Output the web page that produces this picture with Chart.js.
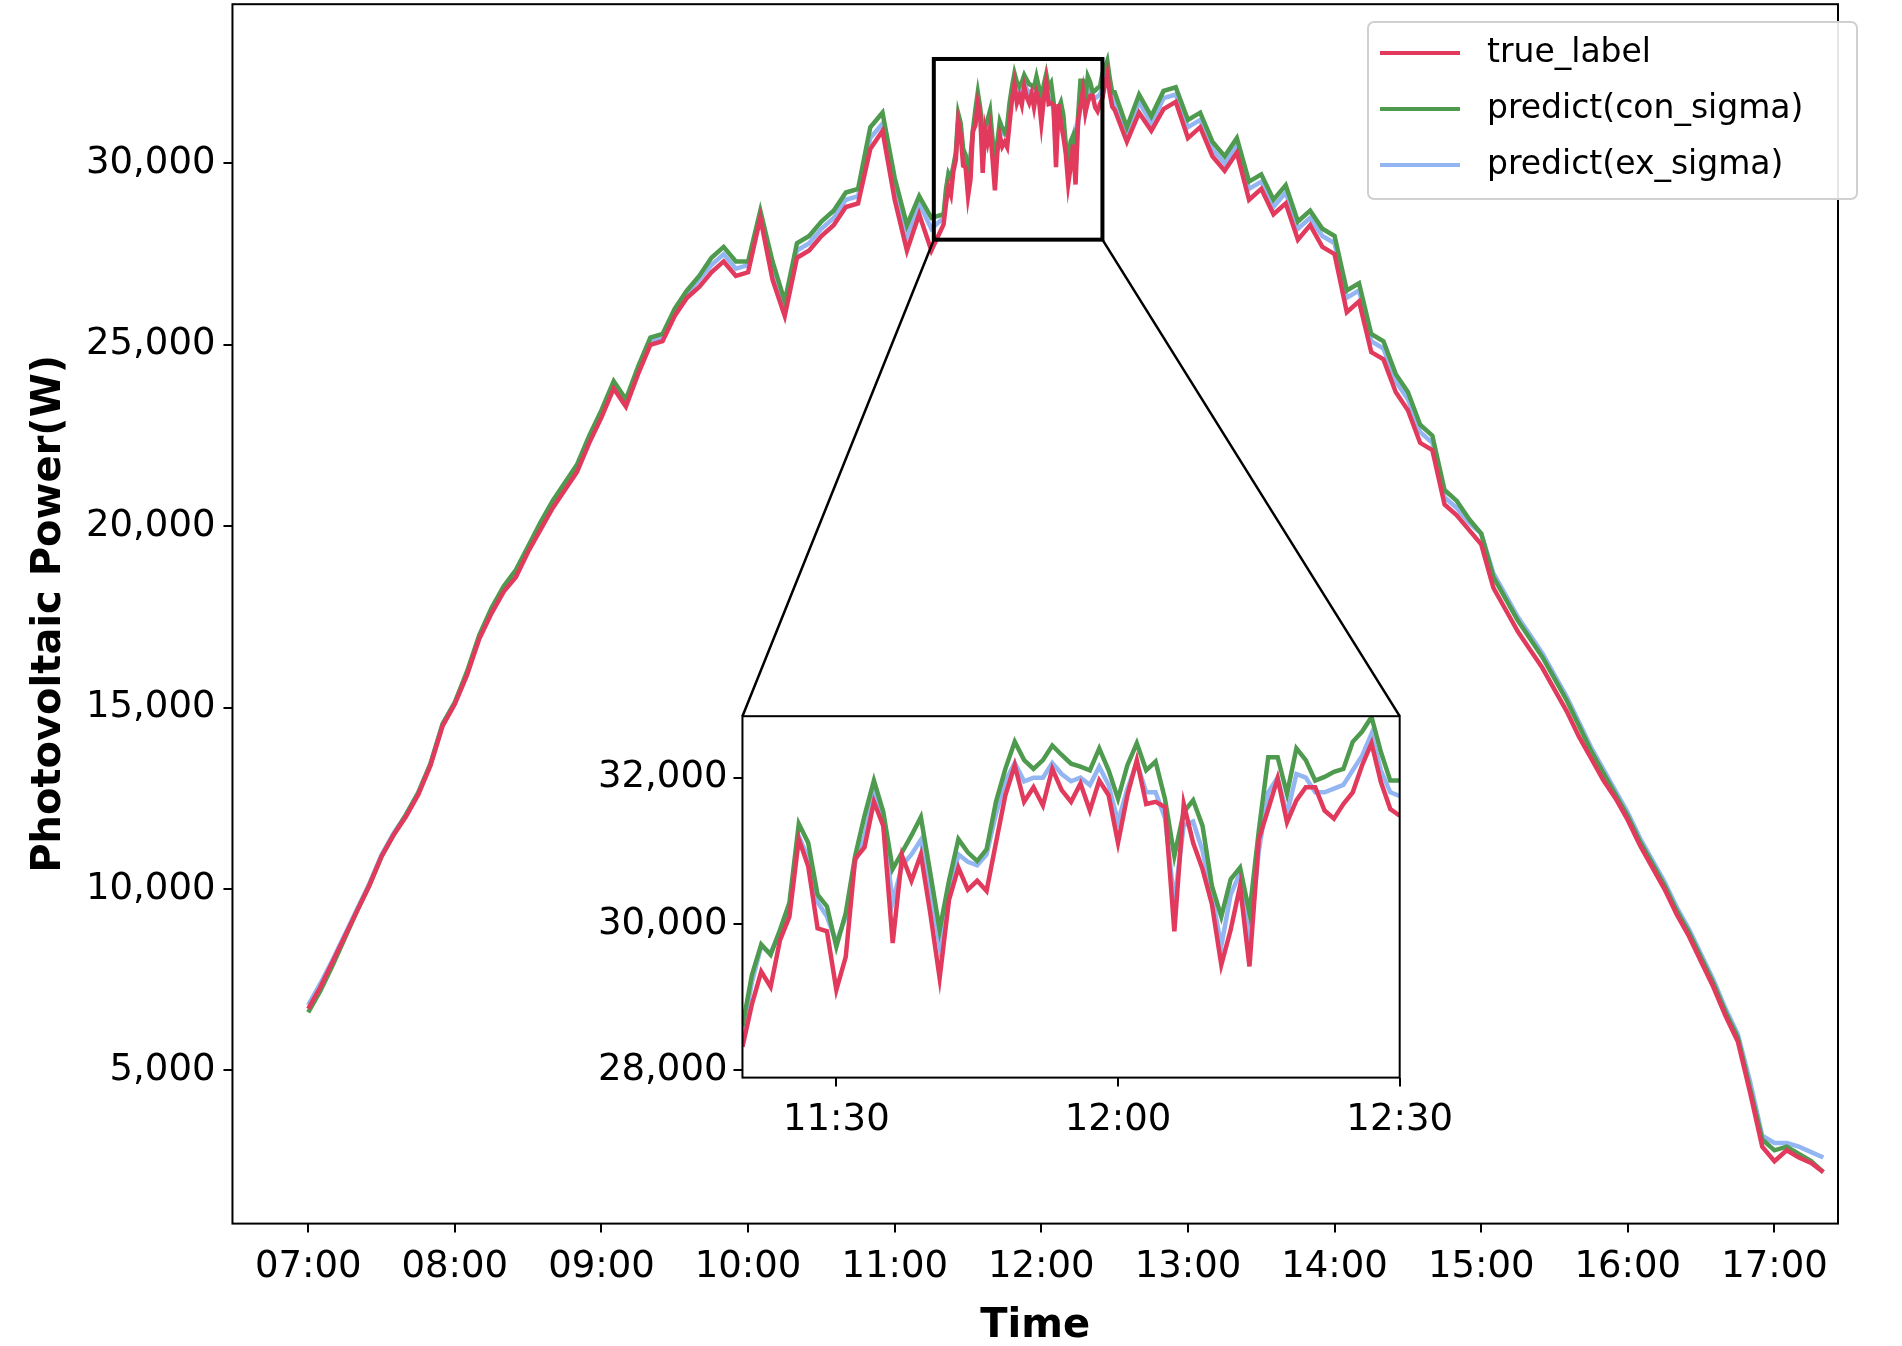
<!DOCTYPE html>
<html>
<head>
<meta charset="utf-8">
<script src="https://cdn.jsdelivr.net/npm/chart.js@4.4.0/dist/chart.umd.min.js"></script>
<style>
  body { margin: 0; background: #fff; overflow: hidden; }
  #wrap { position: relative; width: 1902px; height: 1346px; overflow: hidden; }
  #main { position: absolute; left: 0; top: -26px; }
  #inset { position: absolute; left: 592px; top: 688px; }
</style>
</head>
<body>
<div id="wrap">
  <canvas id="main" width="1902" height="1379"></canvas>
  <canvas id="inset" width="873" height="467"></canvas>
</div>
<script>
const seriesNames = ['true_label', 'predict(con_sigma)', 'predict(ex_sigma)'];
const seriesColors = ['#e23a5c', '#4e9a4e', '#93b6f2'];

// minutes after midnight
const morningStart = 420, insetStart = 680, afternoonStart = 755;

// 07:00 - 11:15, every 5 min
const trueMorning = [6700,7300,8000,8700,9400,10100,10900,11500,12000,12600,13400,14500,
  15100,15900,16900,17600,18200,18600,19300,19900,20500,21000,21500,22300,
  23000,23800,23300,24200,25000,25100,25800,26300,26600,27000,27300,26900,
  27000,28500,26800,25800,27400,27600,28000,28300,28800,28900,30400,30900,
  29000,27600,28600,27600];
const conMorning = [6600,7200,7900,8650,9400,10100,10900,11500,12050,12650,13450,14550,
  15150,16000,17000,17750,18350,18800,19450,20100,20700,21200,21700,22500,
  23200,24000,23500,24400,25200,25300,26000,26500,26900,27400,27700,27300,
  27300,28700,27300,26200,27800,28000,28400,28700,29200,29300,31000,31400,
  29600,28300,29100,28500];
const exMorning = [6800,7400,8050,8750,9450,10150,10950,11550,12050,12650,13450,14550,
  15150,15950,16950,17700,18300,18700,19400,20000,20600,21100,21600,22400,
  23100,23900,23400,24300,25100,25200,25900,26400,26800,27200,27500,27100,
  27200,28600,27100,26000,27600,27800,28200,28500,29000,29100,30700,31100,
  29300,28000,28900,28200];

// 11:20 - 12:30, every minute (zoomed window)
const trueInset = [28320,28900,29350,29140,29780,30100,31160,30790,29940,29900,29100,29550,30890,31050,31670,31340,29740,30930,30590,30950,
  30150,29260,30330,30770,30470,30590,30450,31110,31760,32170,31670,31870,31620,32120,31830,31670,31920,31550,31960,31760,
  31110,31760,32240,31640,31670,31600,29900,31640,31110,30750,30270,29440,29920,30520,29420,31160,31570,31990,31390,31690,
  31870,31870,31550,31440,31640,31800,32170,32470,31940,31570,31480];
const conInset = [28600,29300,29720,29580,29920,30290,31370,31110,30400,30240,29690,30150,30930,31480,31960,31530,30750,30980,31210,31460,
  30700,29920,30590,31160,30980,30860,31020,31670,32120,32490,32240,32120,32240,32440,32310,32190,32150,32100,32400,32100,
  31710,32170,32470,32100,32220,31710,30930,31530,31690,31340,30520,30100,30610,30770,30150,31280,32280,32280,31780,32400,
  32240,31960,32010,32080,32120,32490,32630,32830,32350,31960,31960];
const exInset = [28500,29200,29700,29600,29900,30250,31200,30900,30300,30100,29750,30100,30850,31200,31800,31350,30300,30800,30950,31150,
  30500,29700,30400,30950,30850,30800,30950,31500,31950,32200,31950,32000,32000,32200,32050,31950,32000,31900,32150,31900,
  31400,31850,32200,31800,31800,31450,30300,31350,31400,31000,30400,29700,30400,30700,29750,31000,31800,32000,31500,32050,
  32000,31800,31800,31850,31900,32100,32300,32600,32100,31800,31750];

// 12:35 - 17:20, every 5 min
const trueAfternoon = [30600,31400,30900,31500,31700,30700,31000,30200,29800,30300,29000,29300,28600,28900,27900,
  28300,27700,27500,25900,26200,24800,24600,23700,23200,22300,22100,20600,20300,19900,19500,
  18300,17700,17100,16600,16100,15500,14900,14200,13600,13000,12500,11900,11200,10600,10000,
  9300,8700,8000,7300,6500,5800,4400,2900,2500,2800,2600,2450,2200];
const conAfternoon = [31000,31900,31300,32000,32100,31200,31400,30600,30200,30700,29500,29700,29000,29400,28400,
  28700,28200,28000,26500,26700,25300,25100,24200,23700,22800,22500,21000,20700,20200,19800,
  18600,18000,17400,16900,16400,15800,15200,14500,13800,13200,12600,12000,11300,10700,10100,
  9400,8800,8100,7400,6600,5900,4500,3100,2800,2900,2700,2500,2200];
const exAfternoon = [30800,31700,31100,31800,31900,31000,31200,30400,30000,30500,29300,29500,28800,29200,28200,
  28500,28000,27800,26300,26500,25100,24900,24000,23500,22600,22300,20800,20500,20100,19800,
  18700,18100,17500,17000,16500,15900,15300,14600,13900,13300,12700,12100,11400,10800,10200,
  9500,8900,8200,7500,6700,6000,4700,3200,3000,3000,2900,2750,2600];

const mainYTicks = [5000, 10000, 15000, 20000, 25000, 30000];
const insetYTicks = [28000, 30000, 32000];
const zoomBox = { x0: 676, x1: 745, y0: 27900, y1: 32880 };

const toPoints = (start, step, vals) => vals.map((v, i) => ({ x: start + i * step, y: v }));
const joinSeries = (m, ins, a) => [...toPoints(morningStart, 5, m), ...toPoints(insetStart, 1, ins), ...toPoints(afternoonStart, 5, a)];

const mainSeries = [
  joinSeries(trueMorning, trueInset, trueAfternoon),
  joinSeries(conMorning, conInset, conAfternoon),
  joinSeries(exMorning, exInset, exAfternoon)
];
const insetSeries = [trueInset, conInset, exInset].map(s => toPoints(insetStart, 1, s));

const hhmm = v => String(Math.floor(v / 60)).padStart(2, '0') + ':' + String(v % 60).padStart(2, '0');
const FONT = 'DejaVu Sans';

const boxPlugin = {
  id: 'box',
  afterDraw(chart) {
    const { ctx, chartArea: a } = chart;
    ctx.save();
    ctx.strokeStyle = '#000'; ctx.lineWidth = 2;
    ctx.strokeRect(a.left, a.top, a.right - a.left, a.bottom - a.top);
    ctx.restore();
  }
};

const makeDatasets = series => series.map((d, i) => ({
  label: seriesNames[i], data: d, borderColor: seriesColors[i], borderWidth: 4.5,
  pointRadius: 0, tension: 0, fill: false
}));

const axisCommon = (min, max, ticks, fmt, pad) => ({
  type: 'linear', min, max,
  afterBuildTicks: ax => { ax.ticks = ticks.map(v => ({ value: v })); },
  ticks: { color: '#000', font: { family: FONT, size: 37 }, callback: fmt, padding: pad },
  grid: { drawOnChartArea: false, color: '#000', tickLength: 9, lineWidth: 2 },
  border: { display: false }
});

const overlayPlugin = {
  id: 'overlay',
  afterDraw(chart) {
    const { ctx } = chart;
    const x = chart.scales.x, y = chart.scales.y;
    const bx0 = x.getPixelForValue(zoomBox.x0), bx1 = x.getPixelForValue(zoomBox.x1);
    const by0 = y.getPixelForValue(zoomBox.y1), by1 = y.getPixelForValue(zoomBox.y0);
    ctx.save();
    ctx.strokeStyle = '#000'; ctx.lineWidth = 4;
    ctx.strokeRect(bx0, by0, bx1 - bx0, by1 - by0);
    const ins = window.insetChart;
    if (ins) {
      const el = document.getElementById('inset');
      const mainTop = chart.canvas.offsetTop;
      const ox = el.offsetLeft, oy = el.offsetTop - mainTop, a = ins.chartArea;
      ctx.lineWidth = 2.5;
      ctx.beginPath();
      ctx.moveTo(bx0, by1); ctx.lineTo(ox + a.left, oy + a.top);
      ctx.moveTo(bx1, by1); ctx.lineTo(ox + a.right, oy + a.top);
      ctx.stroke();
    }
    // legend (canvas is shifted up 26px)
    const lx = 1368, ly = 48, lw = 489, lh = 177;
    ctx.fillStyle = 'rgba(255,255,255,0.9)';
    ctx.strokeStyle = '#d0d0d0'; ctx.lineWidth = 2;
    ctx.beginPath(); ctx.roundRect(lx, ly, lw, lh, 6); ctx.fill(); ctx.stroke();
    ctx.font = `33px ${FONT}`; ctx.textBaseline = 'middle';
    seriesNames.forEach((n, i) => {
      const yy = 79 + i * 56;
      ctx.strokeStyle = seriesColors[i]; ctx.lineWidth = 4;
      ctx.beginPath(); ctx.moveTo(1380, yy); ctx.lineTo(1460, yy); ctx.stroke();
      ctx.fillStyle = '#000'; ctx.fillText(n, 1487, yy);
    });
    ctx.restore();
  }
};

const mainChart = new Chart(document.getElementById('main'), {
  type: 'line',
  data: { datasets: makeDatasets(mainSeries) },
  options: {
    responsive: false, animation: false,
    layout: { padding: { top: 0, right: 64, left: 22, bottom: 2 } },
    plugins: { legend: { display: false }, tooltip: { enabled: false } },
    scales: {
      x: { ...axisCommon(389, 1046, [420,480,540,600,660,720,780,840,900,960,1020], v => hhmm(v), 13),
        title: { display: true, text: 'Time', color: '#000', font: { family: FONT, size: 40, weight: 'bold' }, padding: 0 } },
      y: { ...axisCommon(780, 34390, mainYTicks, v => v.toLocaleString('en-US'), 8),
        title: { display: true, text: 'Photovoltaic Power(W)', color: '#000', font: { family: FONT, size: 40, weight: 'bold' }, padding: 4 } }
    }
  },
  plugins: [boxPlugin, overlayPlugin]
});

window.insetChart = new Chart(document.getElementById('inset'), {
  type: 'line',
  data: { datasets: makeDatasets(insetSeries) },
  options: {
    responsive: false, animation: false,
    layout: { padding: { top: 25, right: 40, left: 0, bottom: 0 } },
    plugins: { legend: { display: false }, tooltip: { enabled: false } },
    scales: {
      x: axisCommon(680, 750, [690, 720, 750], v => hhmm(v), 12),
      y: axisCommon(27900, 32840, insetYTicks, v => v.toLocaleString('en-US'), 6)
    }
  },
  plugins: [{ id: 'bg', beforeDraw(c) { const a = c.chartArea; c.ctx.save(); c.ctx.fillStyle = '#fff'; c.ctx.fillRect(a.left, a.top, a.right - a.left, a.bottom - a.top); c.ctx.restore(); } }, boxPlugin]
});
mainChart.draw();
</script>
</body>
</html>
